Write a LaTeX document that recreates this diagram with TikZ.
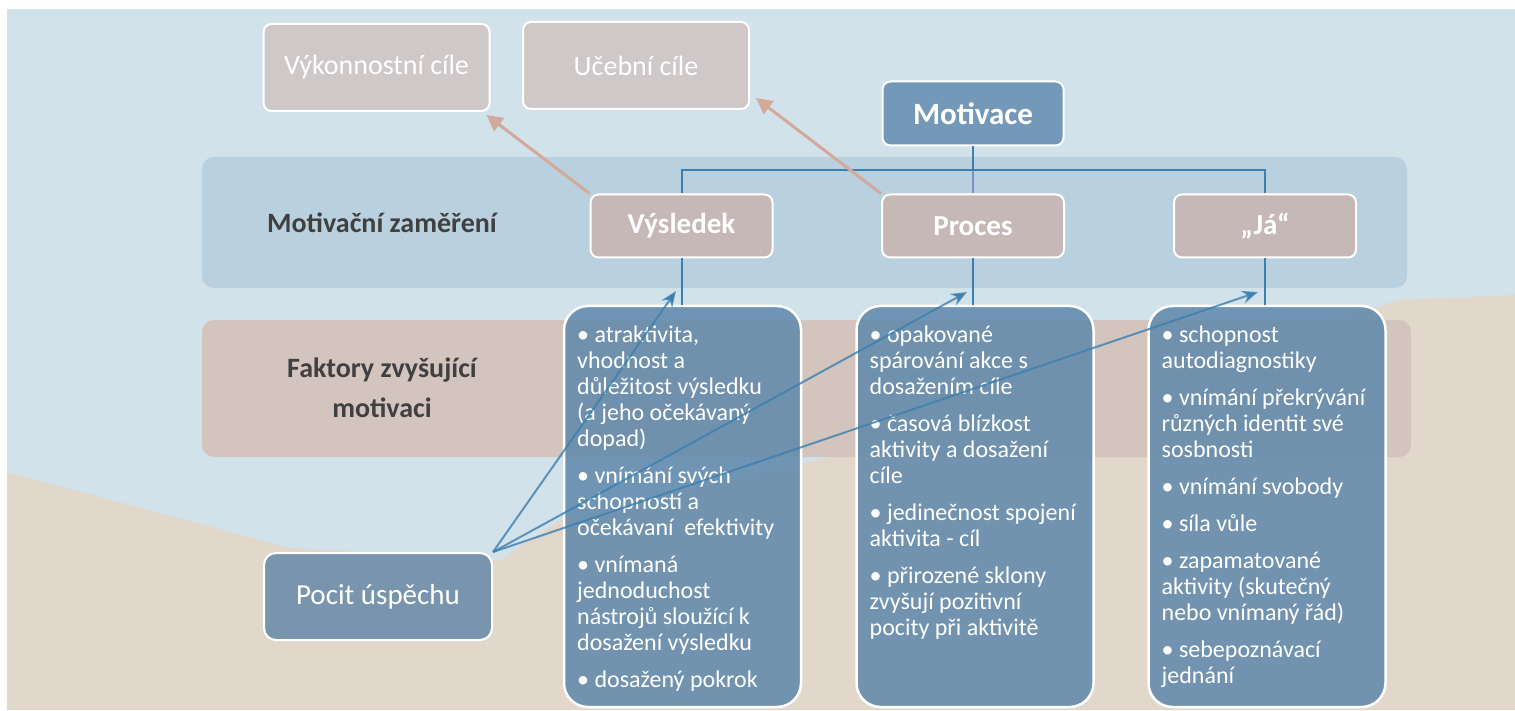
\documentclass[tikz,border=0pt]{standalone}
\usepackage{fontspec}
\setmainfont{Carlito}
\usepackage{xcolor}
\usetikzlibrary{arrows.meta,calc,positioning}

\definecolor{bgblue}{HTML}{D2E2EB}
\definecolor{bgbeige}{HTML}{E1D7CB}
\definecolor{bandblue}{HTML}{B9D0DE}
\definecolor{bandrose}{HTML}{D3C5BE}
\definecolor{goalfill}{HTML}{CFC8C9}
\definecolor{catfill}{HTML}{C7B8B8}
\definecolor{motfill}{HTML}{7499B8}
\definecolor{listfill}{HTML}{5F88AB}
\definecolor{pocitfill}{HTML}{7895AD}
\definecolor{treeblue}{HTML}{3B80B0}
\definecolor{treeviolet}{HTML}{7F8FD0}
\definecolor{pinkline}{HTML}{D3A99B}
\definecolor{labelgray}{HTML}{404040}

\begin{document}
\begin{tikzpicture}[x=0.5pt,y=-0.5pt,>=Stealth,
		goal/.style={draw=white,line width=1pt,fill=goalfill,rounded corners=4pt,
			minimum width=113pt,minimum height=43.5pt,text=white,
			font=\fontsize{14}{16}\selectfont},
		cat/.style={draw=white,line width=1pt,fill=catfill,rounded corners=4pt,
			minimum width=91pt,minimum height=31.5pt,text=white,
			font=\bfseries\fontsize{14.5}{16}\selectfont},
		listbox/.style={draw=white,line width=1.25pt,fill=listfill,fill opacity=0.85,
			rounded corners=12pt,minimum width=118.5pt,minimum height=200.5pt},
		listtext/.style={anchor=north west,align=flush left,text width=115pt,inner sep=0pt,
			text=white,font=\fontsize{12}{13}\selectfont},
		bandlabel/.style={text=labelgray,align=center,font=\bfseries\fontsize{14}{20}\selectfont},
		tree/.style={treeblue,line width=1pt},
		toward/.style={pinkline,line width=1.5pt,-{Triangle[length=8pt,width=8pt]}},
		feeds/.style={treeblue,line width=1pt,draw opacity=0.8,-{Stealth[length=8pt,width=6.5pt]}}]
		\useasboundingbox (0,0) rectangle (1515,711);
		
		% Background
		\fill[bgblue] (7,9) rectangle (1515,710);
		\fill[bgbeige] (7,472) -- (290,548) -- (500,560) -- (560,520) -- (860,450)
			-- (1400,300) -- (1515,295) -- (1515,710) -- (7,710) -- cycle;
		
		% Bands
		\fill[bandblue,rounded corners=6pt] (202,157) rectangle (1407,288);
		\fill[bandrose,rounded corners=6pt] (202,320) rectangle (1411,457);
		\node[bandlabel] (lblmot) at (382,223) {Motivační zaměření};
		\node[bandlabel] (lblfak) at (382,388) {Faktory zvyšující\\motivaci};
		
		% Goals
		\node[goal] (vykon) at (376.5,67.5) {Výkonnostní cíle};
		\node[goal] (uceb) at (636,65.5) {Učební cíle};
		
		% Motivation and its three orientations
		\node[draw=white,line width=1pt,fill=motfill,rounded corners=4pt,
			minimum width=90.5pt,minimum height=32pt,text=white,
			font=\bfseries\fontsize{15.5}{17}\selectfont] (mot) at (973,113.5) {Motivace};
		\node[cat] (vys) at (681.5,226) {Výsledek};
		\node[cat] (proc) at (973,226) {Proces};
		\node[cat] (ja) at (1265,226) {„Já“};
		
		\coordinate (fork) at (973,170);
		\draw[treeviolet,line width=1pt] (fork) -- (proc.north);
		\draw[tree] (mot.south) -- (fork);
		\draw[tree] (vys.north) |- (fork) -| (ja.north);
		
		% Factor lists
		\node[listbox] (lst1) at (682.5,506.5) {};
		\node[listbox] (lst2) at (975,506.5) {};
		\node[listbox] (lst3) at (1267,506.5) {};
		\draw[tree] (vys.south) -- (vys.south |- lst1.north);
		\draw[tree] (proc.south) -- (proc.south |- lst2.north);
		\draw[tree] (ja.south) -- (ja.south |- lst3.north);
		
		\node[listtext] (txt1) at ($(lst1.north west)+(14,21)$) {%
			• atraktivita,\\ vhodnost a\\ důležitost výsledku\\ (a jeho očekávaný\\ dopad)\\[5.5pt]
			• vnímání svých\\ schopností a\\ očekávaní\ \ efektivity\\[5.5pt]
			• vnímaná\\ jednoduchost\\ nástrojů sloužící k\\ dosažení výsledku\\[5.5pt]
			• dosažený pokrok};
		\node[listtext] (txt2) at ($(lst2.north west)+(14,21)$) {%
			• opakované\\ spárování akce s\\ dosažením cíle\\[5.5pt]
			• časová blízkost\\ aktivity a dosažení\\ cíle\\[5.5pt]
			• jedinečnost spojení\\ aktivita - cíl\\[5.5pt]
			• přirozené sklony\\ zvyšují pozitivní\\ pocity při aktivitě};
		\node[listtext] (txt3) at ($(lst3.north west)+(14,21)$) {%
			• schopnost\\ autodiagnostiky\\[5.5pt]
			• vnímání překrývání\\ různých identit své\\ sosbnosti\\[5.5pt]
			• vnímání svobody\\[5.5pt]
			• síla vůle\\[5.5pt]
			• zapamatované\\ aktivity (skutečný\\ nebo vnímaný řád)\\[5.5pt]
			• sebepoznávací\\ jednání};
		
		% Feeling of success
		\node[draw=white,line width=1pt,fill=pocitfill,rounded corners=6pt,
			minimum width=114pt,minimum height=43.5pt,text=white,
			font=\fontsize{14.5}{16}\selectfont] (pocit) at (378,596.5) {Pocit úspěchu};
		\coordinate (in1) at (676,291);
		\coordinate (in2) at (967,292);
		\coordinate (in3) at (1258,292);
		\draw[feeds] (pocit.north east) -- (in1);
		\draw[feeds] (pocit.north east) -- (in2);
		\draw[feeds] (pocit.north east) -- (in3);
		
		% Orientation towards goals
		\draw[toward] (vys.north west) -- ($(vykon.south east)+(-4,3)$);
		\draw[toward] (proc.north west) -- ($(uceb.south east)+(6,-12)$);
	\end{tikzpicture}
\end{document}
